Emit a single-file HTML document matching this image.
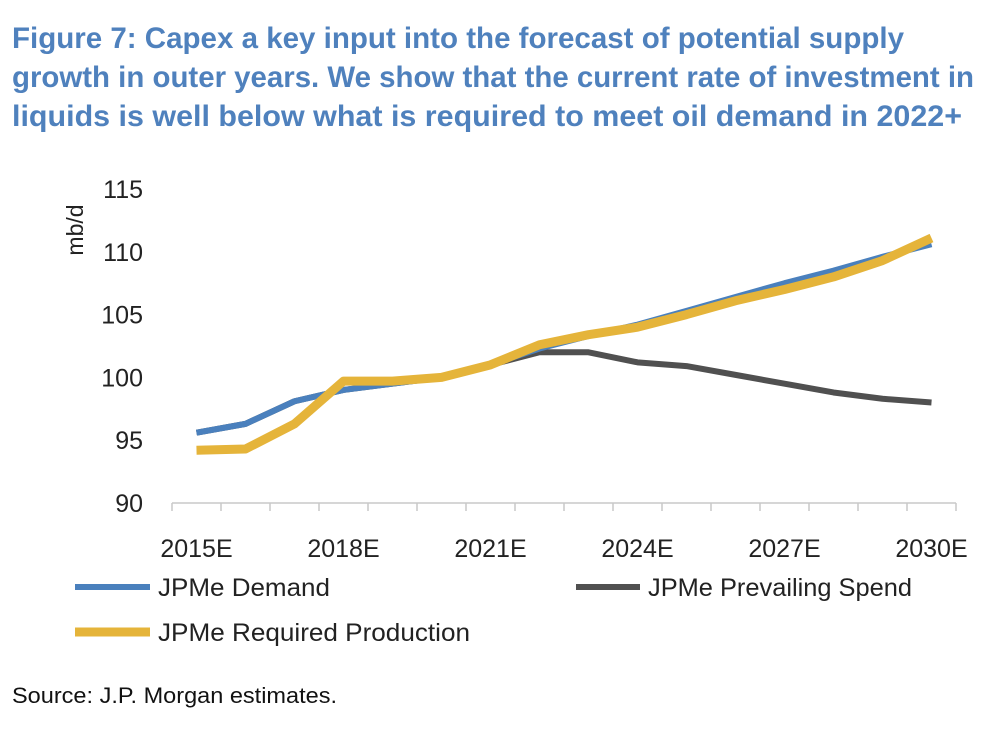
<!DOCTYPE html>
<html><head><meta charset="utf-8"><style>
html,body{margin:0;padding:0;background:#fff;}
svg{display:block;font-family:"Liberation Sans",Arial,sans-serif;}
</style></head><body>
<svg width="996" height="738" viewBox="0 0 996 738">
<g fill="#4f81bd" font-weight="bold" font-size="30">
<text x="12" y="48" textLength="892" lengthAdjust="spacingAndGlyphs">Figure 7: Capex a key input into the forecast of potential supply</text>
<text x="12" y="87" textLength="962" lengthAdjust="spacingAndGlyphs">growth in outer years. We show that the current rate of investment in</text>
<text x="12" y="126" textLength="950" lengthAdjust="spacingAndGlyphs">liquids is well below what is required to meet oil demand in 2022+</text>
</g>
<text transform="translate(83,230) rotate(-90)" text-anchor="middle" font-size="23" fill="#222">mb/d</text>
<g id="yticks"></g>
<g id="xaxis"></g>
<g id="series"></g>
<g font-size="25" fill="#222">
<g><line x1="75" y1="587" x2="150" y2="587" stroke="#4a80bd" stroke-width="6"/><text x="158" y="596" textLength="172" lengthAdjust="spacingAndGlyphs">JPMe Demand</text></g>
<g><line x1="576" y1="587" x2="640" y2="587" stroke="#505050" stroke-width="6"/><text x="648" y="596" textLength="264" lengthAdjust="spacingAndGlyphs">JPMe Prevailing Spend</text></g>
<g><line x1="75" y1="632" x2="150" y2="632" stroke="#e5b43a" stroke-width="9"/><text x="158" y="641" textLength="312" lengthAdjust="spacingAndGlyphs">JPMe Required Production</text></g>
</g>
<text x="12" y="703" font-size="22" fill="#111" textLength="325" lengthAdjust="spacingAndGlyphs">Source: J.P. Morgan estimates.</text>
<script>
const years=[2015,2016,2017,2018,2019,2020,2021,2022,2023,2024,2025,2026,2027,2028,2029,2030];
const xLabels=["2015E","","","2018E","","","2021E","","","2024E","","","2027E","","","2030E"];
const yTicks=[90,95,100,105,110,115];
const demand=[95.6,96.3,98.1,99.0,99.5,100.0,101.0,102.3,103.3,104.2,105.3,106.4,107.5,108.5,109.6,110.6];
const prevailing=[95.6,96.3,98.1,99.0,99.5,100.0,101.0,102.0,102.0,101.2,100.9,100.2,99.5,98.8,98.3,98.0];
const required=[94.2,94.3,96.3,99.7,99.7,100.0,101.0,102.6,103.4,104.0,105.0,106.1,107.0,108.0,109.3,111.1];
const NS="http://www.w3.org/2000/svg";
const x0=172,step=49,yBase=503,yPer=12.56;
function X(i){return x0+step*(i+0.5);}
function Y(v){return yBase-(v-90)*yPer;}
const yg=document.getElementById('yticks');
yTicks.forEach(v=>{const t=document.createElementNS(NS,'text');


t.setAttribute('x',143);t.setAttribute('y',Y(v)+9);t.setAttribute('text-anchor','end');
t.setAttribute('font-size','25');t.setAttribute('fill','#222');t.textContent=v;yg.appendChild(t);});
const xg=document.getElementById('xaxis');
const ax=document.createElementNS(NS,'line');


ax.setAttribute('x1',x0);ax.setAttribute('x2',x0+step*years.length);ax.setAttribute('y1',yBase);ax.setAttribute('y2',yBase);
ax.setAttribute('stroke','#c8c8c8');ax.setAttribute('stroke-width','1.5');xg.appendChild(ax);
for(let i=0;i<=years.length;i++){const tk=document.createElementNS(NS,'line');


tk.setAttribute('x1',x0+step*i);tk.setAttribute('x2',x0+step*i);tk.setAttribute('y1',yBase);tk.setAttribute('y2',yBase+8);
tk.setAttribute('stroke','#c8c8c8');tk.setAttribute('stroke-width','1.5');xg.appendChild(tk);}
xLabels.forEach((l,i)=>{if(!l)return;const t=document.createElementNS(NS,'text');


t.setAttribute('x',X(i));t.setAttribute('y',557);t.setAttribute('text-anchor','middle');
t.setAttribute('font-size','25');t.setAttribute('fill','#222');t.textContent=l;xg.appendChild(t);});
const sg=document.getElementById('series');
function line(vals,color,w,name){const p=document.createElementNS(NS,'polyline');


p.setAttribute('points',vals.map((v,i)=>X(i)+','+Y(v)).join(' '));
p.setAttribute('fill','none');p.setAttribute('stroke',color);p.setAttribute('stroke-width',w);
p.setAttribute('stroke-linejoin','round');sg.appendChild(p);}
line(prevailing,'#505050',6,'prevailing-spend-line');
line(demand,'#4a80bd',6,'demand-line');
line(required,'#e5b43a',9,'required-production-line');
</script>
</svg>
</body></html>
